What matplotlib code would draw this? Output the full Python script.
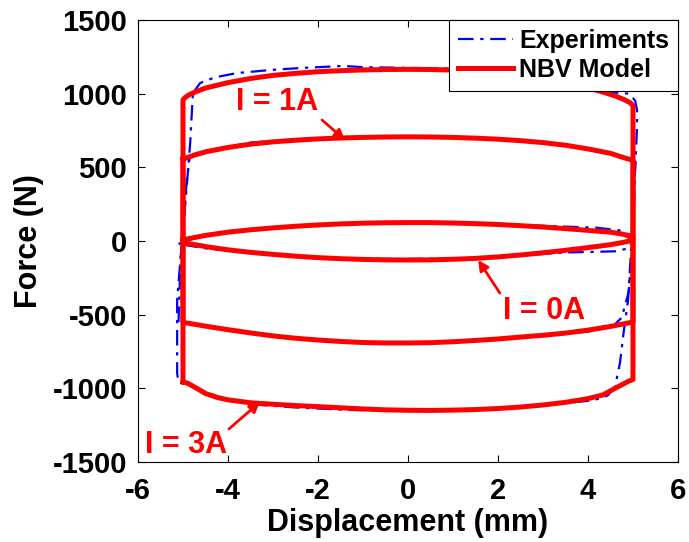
import matplotlib
matplotlib.use("Agg")
import matplotlib.pyplot as plt

# ---------------- data ----------------
# NBV model, I = 3A (closed loop: upper branch left->right, lower branch right->left)
model_3A_x = [-5.0, -5.0, -4.95, -4.85, -4.7, -4.5, -4.0, -3.5, -3.0, -2.5, -2.0, -1.5, -1.0, -0.5, 0.0,
              0.5, 1.0, 1.5, 2.0, 2.5, 3.0, 3.5, 4.0, 4.33, 4.6, 4.8, 4.93, 5.0,
              5.0, 4.9, 4.6, 4.33, 4.0, 3.5, 3.0, 2.5, 2.0, 1.5, 1.0, 0.5, 0.0, -0.5, -1.0, -1.5,
              -2.0, -2.5, -3.0, -3.5, -4.0, -4.24, -4.5, -4.75, -4.9, -5.0]
model_3A_f = [-957, 957, 975, 995, 1015, 1038, 1075, 1103, 1124, 1138, 1149, 1156, 1161, 1164, 1165,
              1164, 1160, 1153, 1142, 1127, 1108, 1080, 1040, 1011, 985, 960, 940, 920,
              -940, -952, -1000, -1045, -1070, -1095, -1113, -1127, -1137, -1144, -1148, -1150, -1149,
              -1146, -1140, -1132, -1124, -1117, -1108, -1098, -1078, -1062, -1035, -990, -965, -957]

# NBV model, I = 1A
model_1A_x = [-5.0, -4.75, -4.5, -4.0, -3.5, -3.0, -2.5, -2.0, -1.5, -1.0, -0.5, 0.0, 0.5, 1.0, 1.5,
              2.0, 2.5, 3.0, 3.5, 4.0, 4.5, 4.8, 5.0,
              5.0, 4.5, 4.0, 3.5, 3.0, 2.5, 2.0, 1.5, 1.0, 0.5, 0.0, -0.5, -1.0, -1.5, -2.0, -2.5,
              -3.0, -3.5, -4.0, -4.5, -5.0, -5.0]
model_1A_f = [555, 583, 605, 635, 657, 673, 684, 693, 699, 703, 706, 707, 706, 703, 698,
              691, 681, 668, 650, 625, 595, 565, 548,
              -550, -580, -605, -625, -640, -652, -665, -675, -684, -690, -692, -692, -689, -682,
              -672, -660, -644, -624, -602, -578, -552, 555]

# NBV model, I = 0A
model_0A_x = [-5.0, -4.5, -4.0, -3.5, -3.0, -2.5, -2.0, -1.5, -1.0, -0.5, 0.0, 0.5, 1.0, 1.5, 2.0,
              2.5, 3.0, 3.5, 4.0, 4.5, 4.8, 5.0,
              5.0, 4.8, 4.5, 4.0, 3.5, 3.0, 2.5, 2.0, 1.5, 1.0, 0.5, 0.0, -0.5, -1.0, -1.5, -2.0,
              -2.5, -3.0, -3.5, -4.0, -4.5, -5.0, -5.0]
model_0A_f = [8, 38, 60, 76, 89, 100, 109, 116, 121, 124, 125, 125, 122, 118, 112,
              104, 95, 84, 72, 60, 45, 22,
              5, -8, -25, -45, -63, -80, -95, -108, -118, -124, -128, -129, -128, -125, -120, -113,
              -103, -91, -77, -60, -38, -10, 8]

# Experiments, I = 3A
exp_3A_x = [-4.78, -4.62, -4.3, -3.8, -3.0, -2.4, -1.44, -1.0, 0.0, 1.0, 2.0, 3.0, 4.0, 4.5, 4.93,
            5.05, 5.09, 5.09, 5.05, 5.0, 4.95, 4.89, 4.8, 4.71, 4.6, 4.45, 4.33, 4.0, 3.5, 3.0,
            2.5, 1.5, 0.5, -0.5, -1.3, -2.5, -3.5, -4.0, -4.24, -4.6, -4.9, -5.1, -5.13, -5.13,
            -5.05, -4.96, -4.84, -4.78]
exp_3A_f = [1004, 1072, 1110, 1140, 1162, 1174, 1188, 1180, 1175, 1170, 1150, 1112, 1048, 1010, 1000,
            950, 889, 774, 500, 231, -100, -404, -600, -828, -991, -1045, -1066, -1085, -1100, -1118,
            -1130, -1145, -1152, -1150, -1147, -1130, -1108, -1080, -1055, -1010, -975, -955, -900, -400,
            -100, 210, 665, 1004]

# Experiments, I = 1A
exp_1A_x = [-5.1, -5.05, -4.92, -4.85, -4.5, -3.5, -2.4, -1.0, 0.5, 2.0, 3.2, 4.2, 4.8, 5.05,
            5.0, 4.9, 4.75, 4.55, 4.0, 3.0, 1.5, 0.0, -1.5, -3.0, -4.2, -4.8, -5.1]
exp_1A_f = [-550, -100, 400, 570, 610, 668, 692, 708, 708, 692, 660, 610, 570, 540,
            0, -350, -520, -580, -615, -645, -680, -695, -685, -645, -600, -565, -550]

# Experiments, I = 0A
exp_0A_x = [-5.1, -4.5, -3.0, -1.0, 0.0, 1.5, 3.0, 4.2, 4.7, 4.95, 5.0,
            4.9, 4.6, 3.5, 2.5, 1.5, 0.0, -1.5, -3.0, -4.5, -5.1]
exp_0A_f = [-20, 45, 92, 120, 122, 118, 103, 90, 72, 40, 0,
            -50, -70, -78, -98, -115, -122, -120, -95, -50, -20]

x_ticks = [-6, -4, -2, 0, 2, 4, 6]
y_ticks = [-1500, -1000, -500, 0, 500, 1000, 1500]

# annotations: label, text position, arrow start, arrow tip
ann_labels = ["I = 1A", "I = 0A", "I = 3A"]
ann_text_xy = [(-2.91, 943), (3.02, -475), (-4.93, -1385)]
ann_arrow_from = [(-1.91, 821), (2.04, -353), (-3.98, -1276)]
ann_arrow_to = [(-1.40, 686), (1.56, -129), (-3.29, -1093)]

# ---------------- plot ----------------
plt.rcParams['font.family'] = ['Liberation Sans', 'DejaVu Sans']
plt.rcParams['font.weight'] = 'bold'
plt.rcParams['axes.unicode_minus'] = False

fig = plt.figure(figsize=(6.89, 5.42), dpi=100)
ax = fig.add_axes([138 / 689, 1 - 462 / 542, 540 / 689, 442 / 542])

dashdot = (0, (7, 3, 1.5, 3))
blue = '#0000ff'
red = '#ff0000'

ax.plot(exp_3A_x, exp_3A_f, color=blue, lw=1.6, linestyle=dashdot, label='Experiments')
ax.plot(exp_1A_x, exp_1A_f, color=blue, lw=1.6, linestyle=dashdot)
ax.plot(exp_0A_x, exp_0A_f, color=blue, lw=1.6, linestyle=dashdot)

ax.plot(model_3A_x, model_3A_f, color=red, lw=3.6, label='NBV Model', solid_joinstyle='round')
ax.plot(model_1A_x, model_1A_f, color=red, lw=3.6, solid_joinstyle='round')
ax.plot(model_0A_x, model_0A_f, color=red, lw=3.6, solid_joinstyle='round')

for lab, txy, a0, a1 in zip(ann_labels, ann_text_xy, ann_arrow_from, ann_arrow_to):
    ax.text(txy[0], txy[1], lab, color=red, fontsize=22, fontweight='bold', ha='center', va='center')
    ax.annotate('', xy=a1, xytext=a0,
                arrowprops=dict(arrowstyle='-|>', color=red, lw=2.0, mutation_scale=15,
                                shrinkA=0, shrinkB=0))

ax.set_xlim(-6, 6)
ax.set_ylim(-1500, 1500)
ax.set_xticks(x_ticks)
ax.set_yticks(y_ticks)
ax.tick_params(direction='in', length=5, width=0.8, top=True, right=True, labelsize=21)
ax.tick_params(axis='x', pad=11)
ax.tick_params(axis='y', pad=8)
for t in ax.get_xticklabels() + ax.get_yticklabels():
    t.set_fontweight('bold')
for s in ax.spines.values():
    s.set_linewidth(0.8)

ax.set_xlabel('Displacement (mm)', fontsize=22, fontweight='bold', labelpad=2)
ax.set_ylabel('Force (N)', fontsize=22, fontweight='bold', labelpad=6)

leg = ax.legend(loc='upper right', bbox_to_anchor=(1, 1), borderaxespad=0, fancybox=False,
                edgecolor='black', framealpha=1, prop={'size': 18, 'weight': 'bold'},
                handlelength=2.2, handletextpad=0.25, labelspacing=0.2, borderpad=0.35)
leg.get_frame().set_linewidth(0.8)

fig.savefig('out.png', dpi=100)
